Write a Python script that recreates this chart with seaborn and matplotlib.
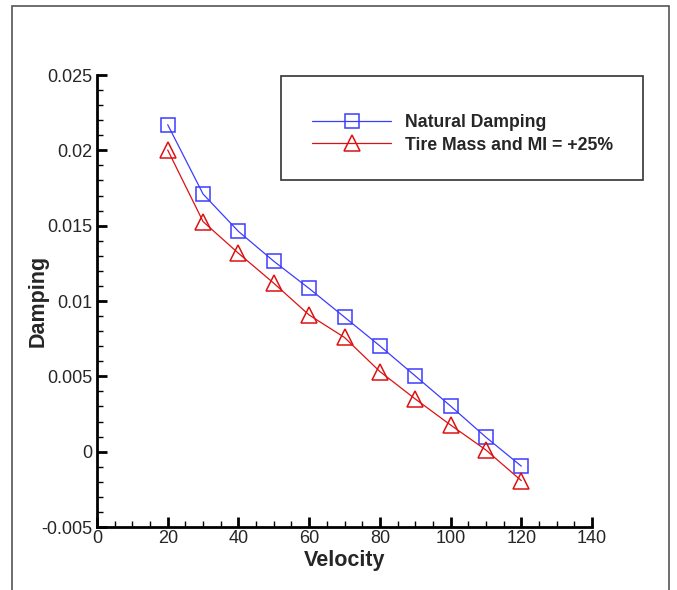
import matplotlib
matplotlib.use("Agg")
import matplotlib.pyplot as plt
import seaborn as sns
import pandas as pd
from matplotlib.patches import Rectangle
from matplotlib.ticker import MultipleLocator

velocity = [20, 30, 40, 50, 60, 70, 80, 90, 100, 110, 120]
natural = [0.0217, 0.0171, 0.01462, 0.01264, 0.01083, 0.00893, 0.00702, 0.00503, 0.00303, 0.00096, -0.00096]
tire = [0.02002, 0.01527, 0.01317, 0.01118, 0.00907, 0.00758, 0.00532, 0.0035, 0.00177, 0.00011, -0.00192]
labels = ["Natural Damping", "Tire Mass and MI = +25%"]

sns.set_theme(style="white")
plt.rcParams['font.family'] = ['Liberation Sans', 'DejaVu Sans']

W, H = 677, 590
fig = plt.figure(figsize=(W / 100, H / 100), dpi=100)
ax = fig.add_axes([97 / W, 1 - 527 / H, (592 - 97) / W, (527 - 75) / H])

df1 = pd.DataFrame({"Velocity": velocity, "Damping": natural})
df2 = pd.DataFrame({"Velocity": velocity, "Damping": tire})
blue = "#3c3cff"
red = "#dd1111"
sns.lineplot(data=df1, x="Velocity", y="Damping", ax=ax, color=blue, lw=0.9,
             marker="s", markersize=10, markerfacecolor="none", markeredgecolor=blue,
             markeredgewidth=1.1, label=labels[0])
sns.lineplot(data=df2, x="Velocity", y="Damping", ax=ax, color=red, lw=0.9,
             marker="^", markersize=11, markerfacecolor="none", markeredgecolor=red,
             markeredgewidth=1.1, label=labels[1])

ax.set_xlim(0, 140)
ax.set_ylim(-0.005, 0.025)
ax.xaxis.set_minor_locator(MultipleLocator(5))
ax.yaxis.set_minor_locator(MultipleLocator(0.001))
ax.set_yticks([-0.005, 0, 0.005, 0.01, 0.015, 0.02, 0.025])
ax.set_yticklabels(["-0.005", "0", "0.005", "0.01", "0.015", "0.02", "0.025"])
ax.set_xticks([0, 20, 40, 60, 80, 100, 120, 140])
ax.set_xticklabels(["0", "20", "40", "60", "80", "100", "120", "140"])

for s in ["top", "right"]:
    ax.spines[s].set_visible(False)
for s in ["left", "bottom"]:
    ax.spines[s].set_visible(True)
    ax.spines[s].set_color("black")
    ax.spines[s].set_linewidth(2)

ax.tick_params(which="major", direction="in", length=7, width=2, color="black",
               labelsize=13, pad=3, left=True, bottom=True)
ax.tick_params(which="minor", direction="in", length=4, width=1, color="black",
               left=True, bottom=True)
ax.tick_params(axis="x", which="major", pad=2)

ax.set_xlabel("Velocity", fontsize=15.5, fontweight="bold", labelpad=2)
ax.set_ylabel("Damping", fontsize=15.5, fontweight="bold", labelpad=-5)

leg = ax.legend(loc="center left", bbox_to_anchor=(296 / W, 1 - 134 / H),
                bbox_transform=fig.transFigure, frameon=False, fontsize=12.7,
                handlelength=4.5, handletextpad=0.8, labelspacing=0.3)
for t in leg.get_texts():
    t.set_fontweight("bold")

fig.add_artist(Rectangle((281 / W, 1 - 180 / H), (643 - 281) / W, (180 - 76) / H,
                         transform=fig.transFigure, fill=False, edgecolor="#333333", lw=1.2))
fig.add_artist(Rectangle((12 / W, -0.1), (669 - 12) / W, 1 - 6 / H + 0.1,
                         transform=fig.transFigure, fill=False, edgecolor="#555555", lw=1.2))

fig.savefig("out.png", dpi=100)
